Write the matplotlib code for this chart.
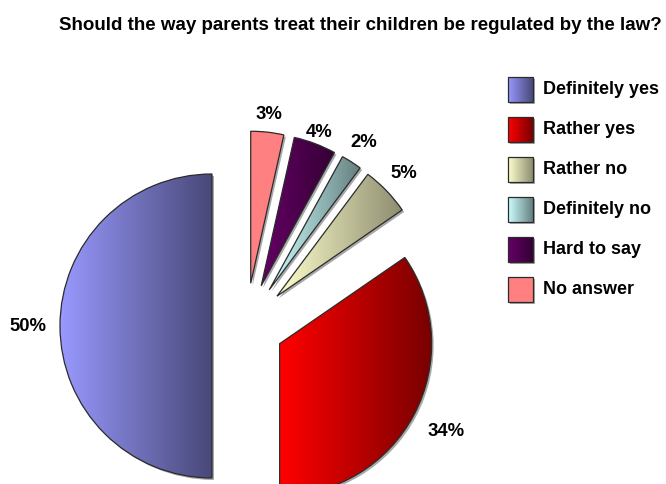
import numpy as np
import matplotlib
matplotlib.use('Agg')
import matplotlib.pyplot as plt
from matplotlib.colors import LinearSegmentedColormap, to_rgb
from matplotlib.patches import Rectangle, PathPatch
from matplotlib.transforms import Affine2D

plt.rcParams['font.family'] = ['Liberation Sans', 'DejaVu Sans']

# ── данные ────────────────────────────────────────────────────────────────
title = 'Should the way parents treat their children be regulated by the law?'
categories = ['Definitely yes', 'Rather yes', 'Rather no', 'Definitely no', 'Hard to say', 'No answer']
shares = [50.0, 34.6, 5.2, 2.2, 4.5, 3.5]          # размеры секторов (по углам на картинке)
pct_labels = ['50%', '34%', '5%', '2%', '4%', '3%']
base_colors = ['#9999FF', '#FF0000', '#FFFFCC', '#CCFFFF', '#660066', '#FF8080']
dark_factor = [0.47, 0.47, 0.55, 0.5, 0.5, 1.0]     # No answer — сплошная заливка

# ── геометрия (в пикселях) ────────────────────────────────────────────────
W, H = 666, 484
center = (246, H - 326)
radius = 152
explode = [34, 38, 43, 43, 43, 43]
label_dist = [1.21, 1.24, 1.16, 1.15, 1.08, 1.12]

grad = np.linspace(0, 1, 256).reshape(1, -1)


def gradient_cmap(c, k):
    dark = tuple(np.array(to_rgb(c)) * k)
    return LinearSegmentedColormap.from_list('g', [c, dark])


fig = plt.figure(figsize=(W / 100, H / 100), dpi=100)
ax = fig.add_axes([0, 0, 1, 1])

wedges, _ = ax.pie(shares, explode=explode, center=center, radius=radius,
                   startangle=90, counterclock=True,
                   wedgeprops=dict(edgecolor='#2b2b2b', linewidth=0.9))

for w, c, k in zip(wedges, base_colors, dark_factor):
    w.set_facecolor('none')
    w.set_zorder(3)
    # лёгкая тень
    sh = PathPatch(w.get_path().transformed(Affine2D().translate(2, -2)),
                   fc='#a8a8a8', ec='none', zorder=1)
    ax.add_patch(sh)
    bb = w.get_path().get_extents()
    im = ax.imshow(grad, cmap=gradient_cmap(c, k), extent=(bb.x0, bb.x1, bb.y0, bb.y1),
                   aspect='auto', origin='lower', interpolation='bilinear', zorder=2)
    im.set_clip_path(w)

# подписи процентов
for w, lab, d in zip(wedges, pct_labels, label_dist):
    tm = np.deg2rad((w.theta1 + w.theta2) / 2)
    x = w.center[0] + d * w.r * np.cos(tm)
    y = w.center[1] + d * w.r * np.sin(tm)
    ax.text(x, y, lab, ha='center', va='center', fontsize=13.3, fontweight='bold')

# легенда
leg_x, box, row0, step = 508, 25, 77, 40
for i, (name, c, k) in enumerate(zip(categories, base_colors, dark_factor)):
    top = H - (row0 + i * step)
    ax.add_patch(Rectangle((leg_x + 2, top - box - 2), box, box, fc='#a8a8a8', ec='none', zorder=1))
    ax.imshow(grad, cmap=gradient_cmap(c, k), extent=(leg_x, leg_x + box, top - box, top),
              aspect='auto', origin='lower', interpolation='bilinear', zorder=2)
    ax.add_patch(Rectangle((leg_x, top - box), box, box, fc='none', ec='#2b2b2b', lw=0.9, zorder=3))
    ax.text(leg_x + 35, top - box / 2, name, ha='left', va='center',
            fontsize=13, fontweight='bold')

fig.text(662 / W, 1 - 25 / H, title, ha='right', va='center', fontsize=13.5, fontweight='bold')

ax.set_xlim(0, W)
ax.set_ylim(0, H)
ax.set_aspect('auto')
ax.axis('off')

fig.savefig('out.png', dpi=100)
